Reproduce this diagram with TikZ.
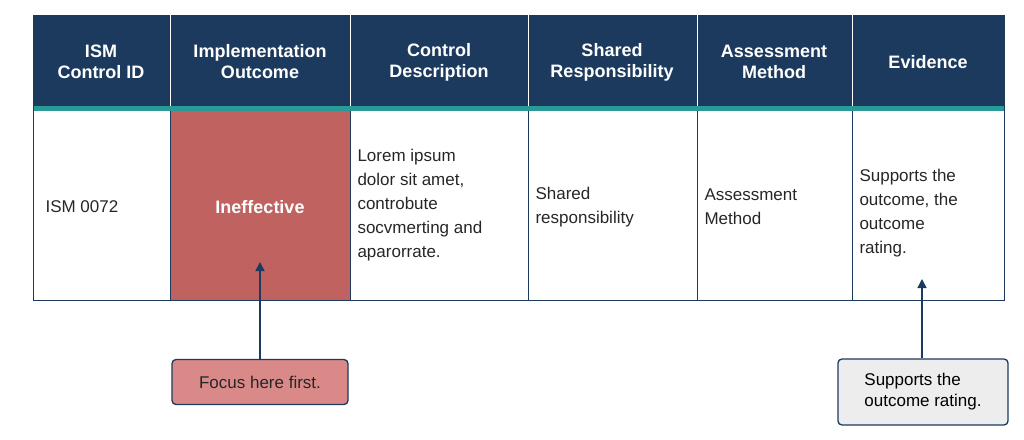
\documentclass[tikz,border=0pt]{standalone}
\usepackage{fontspec}
\setmainfont{Liberation Sans}
\usetikzlibrary{arrows.meta}
\definecolor{navy}{HTML}{1C3A5E}
\definecolor{teal}{HTML}{2A9A98}
\definecolor{redc}{HTML}{C0625F}
\definecolor{pinkc}{HTML}{D98A88}
\definecolor{grayc}{HTML}{EDEDED}
\tikzset{
 hdr/.style={font=\fontsize{18}{21}\selectfont\bfseries, text=white, align=center},
 body/.style={font=\fontsize{17}{24}\selectfont, text=black!85, align=left, anchor=west},
 callout/.style={draw=navy, line width=1.3pt, rounded corners=4pt, font=\fontsize{17}{21}\selectfont, align=left},
 arr/.style={draw=navy, line width=1.5pt, -{Triangle[length=9pt,width=9pt]}}
}
\begin{document}
\begin{tikzpicture}[x=1pt,y=-1pt]
\useasboundingbox (0,0) rectangle (1024,439);
\fill[navy] (33,15) rectangle (1004,107);
\fill[teal] (33,106) rectangle (1004,111);
\fill[redc] (170,111) rectangle (350,300);
\draw[navy, line width=1pt] (33,15) rectangle (1004,300);
\foreach \x in {170,350,528,697,852}{
 \draw[white, line width=0.8pt] (\x,15) -- (\x,106);
 \draw[navy, line width=1pt] (\x,111) -- (\x,300);
}
\node[hdr] (h1) at (101,62) {ISM\\Control ID};
\node[hdr] (h2) at (260,62) {Implementation\\Outcome};
\node[hdr] (h3) at (439,62) {Control\\Description};
\node[hdr] (h4) at (612,62) {Shared\\Responsibility};
\node[hdr] (h5) at (774,62) {Assessment\\Method};
\node[hdr] (h6) at (928,62) {Evidence};
\node[body] (c1) at (42,207) {ISM 0072};
\node[font=\fontsize{18}{21}\selectfont\bfseries, text=white] (c2) at (260,207) {Ineffective};
\node[body] (c3) at (354,205) {Lorem ipsum\\dolor sit amet,\\controbute\\socvmerting and\\aparorrate.};
\node[body] (c4) at (532,207) {Shared\\responsibility};
\node[body] (c5) at (701,207) {Assessment\\Method};
\node[body] (c6) at (856,213) {Supports the\\outcome, the\\outcome\\rating.};
\node[callout, fill=pinkc, minimum width=176pt, minimum height=45pt, text=black!85] (f1) at (260,382) {Focus here first.};
\node[callout, fill=grayc, minimum width=170pt, minimum height=66pt, text=black] (f2) at (923,392) {Supports the\\outcome rating.};
\coordinate (t1) at (260,262);
\coordinate (t2) at (922,279);
\draw[arr] (f1.north) -- (t1);
\draw[arr] (f2.north -| t2) -- (t2);
\end{tikzpicture}
\end{document}
